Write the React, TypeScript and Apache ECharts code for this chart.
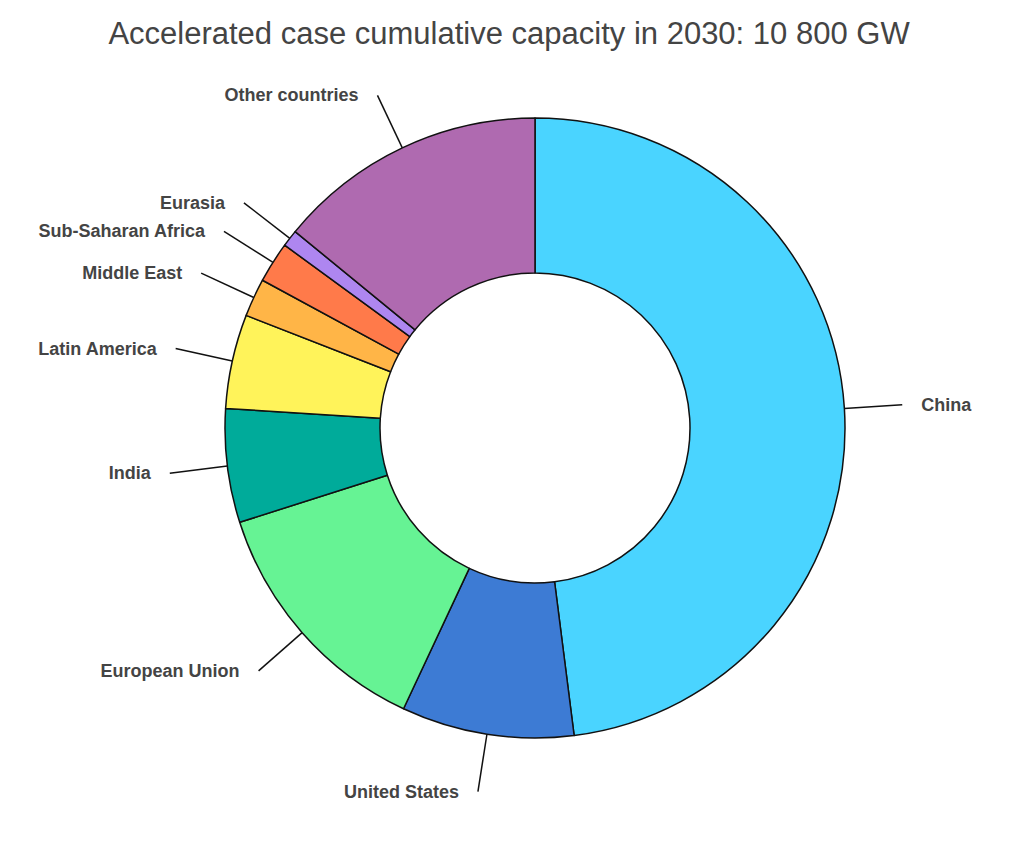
import React, { useEffect, useRef } from "react";
import * as echarts from "echarts";

const titleText = "Accelerated case cumulative capacity in 2030: 10 800 GW";
const categories = [
  "China",
  "United States",
  "European Union",
  "India",
  "Latin America",
  "Middle East",
  "Sub-Saharan Africa",
  "Eurasia",
  "Other countries",
];
const valuesGW = [5180, 970, 1415, 640, 530, 215, 230, 95, 1520];
const colors = [
  "#4AD4FF",
  "#3D7BD4",
  "#66F394",
  "#00AB9A",
  "#FFF35A",
  "#FFB547",
  "#FF7A4A",
  "#AE86F0",
  "#AF6AB0",
];

export default function App() {
  const ref = useRef<HTMLDivElement>(null);
  useEffect(() => {
    if (!ref.current) return;
    const chart = echarts.init(ref.current, null, { renderer: "svg" });
    chart.setOption({
      animation: false,
      backgroundColor: "#ffffff",
      title: {
        text: titleText,
        left: 504,
        textAlign: "center",
        top: 13,
        textStyle: {
          fontFamily: "Liberation Sans, Arial, sans-serif",
          fontSize: 31,
          fontWeight: "normal",
          color: "#444444",
        },
      },
      series: [
        {
          type: "pie",
          center: [535, 428],
          radius: [155, 310],
          startAngle: 90,
          clockwise: true,
          avoidLabelOverlap: true,
          itemStyle: { borderColor: "#111111", borderWidth: 1.5 },
          label: {
            show: true,
            formatter: "{b}",
            fontFamily: "Liberation Sans, Arial, sans-serif",
            fontSize: 18,
            fontWeight: "bold",
            color: "#444444",
            distanceToLabelLine: 19,
          },
          labelLine: {
            show: true,
            length: 58,
            length2: 0,
            lineStyle: { color: "#111111", width: 1.5 },
          },
          data: categories.map((name, i) => ({
            name,
            value: valuesGW[i],
            itemStyle: { color: colors[i] },
          })),
        },
      ],
    });
    return () => chart.dispose();
  }, []);
  return (
    <div
      ref={ref}
      style={{ position: "fixed", left: 0, top: 0, width: 1024, height: 853 }}
    />
  );
}
